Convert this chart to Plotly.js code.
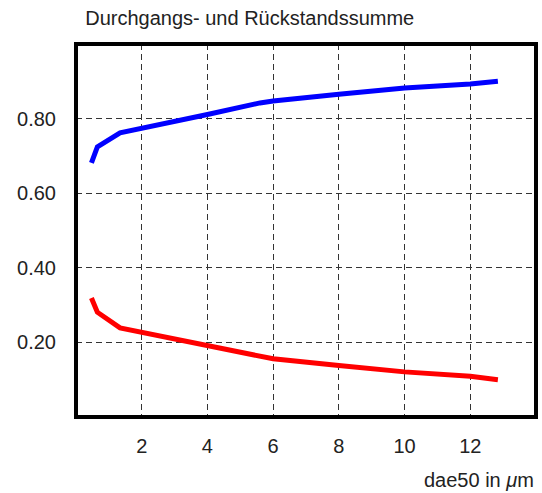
<!DOCTYPE html>
<html>
<head>
<meta charset="utf-8">
<script src="https://cdn.plot.ly/plotly-3.0.1.min.js"></script>
<style>html,body{margin:0;padding:0;background:#fff;}#chart{width:542px;height:493px;}</style>
</head>
<body>
<div id="chart"></div>
<script>
const dae50 = [0.47, 0.65, 1.34, 2, 4, 5.6, 6, 8, 10, 12, 12.84];
const durchgang = [0.681, 0.724, 0.762, 0.775, 0.811, 0.842, 0.847, 0.865, 0.882, 0.893, 0.900];
const rueckstand = [0.319, 0.281, 0.239, 0.227, 0.191, 0.161, 0.156, 0.138, 0.121, 0.109, 0.100];
const xTicks = [2, 4, 6, 8, 10, 12];
const yTicks = [0.2, 0.4, 0.6, 0.8];
const yTickText = ["0.20", "0.40", "0.60", "0.80"];
const titleText = "Durchgangs- und Rückstandssumme";
const xTitle = "dae50 in <i>μ</i>m";

const font = "Liberation Sans, Arial, Helvetica, sans-serif";
const fs = 20;
const traces = [
  {x: dae50, y: durchgang, mode: "lines", line: {color: "#0000ff", width: 5}, hoverinfo: "skip"},
  {x: dae50, y: rueckstand, mode: "lines", line: {color: "#ff0000", width: 5}, hoverinfo: "skip"}
];
const layout = {
  width: 542, height: 493,
  margin: {l: 76, r: 6, t: 44, b: 76},
  paper_bgcolor: "#fff", plot_bgcolor: "#fff",
  showlegend: false,
  font: {family: font, size: fs, color: "#222"},
  title: {text: titleText, x: 0.02, xref: "paper", xanchor: "left", y: 1 - 18/493, yref: "container", yanchor: "middle",
          font: {family: font, size: fs, color: "#222"}},
  xaxis: {range: [0, 14], tickvals: xTicks, showgrid: true, gridcolor: "#333", gridwidth: 1, griddash: "6px,4px",
          zeroline: false, showline: false, ticks: "", ticklabelstandoff: 15, tickfont: {size: fs, color: "#222"}},
  yaxis: {range: [0, 1], tickvals: yTicks, ticktext: yTickText, showgrid: true, gridcolor: "#333", gridwidth: 1, griddash: "6px,4px",
          zeroline: false, showline: false, ticks: "", ticklabelstandoff: 19, tickfont: {size: fs, color: "#222"}},
  shapes: [{type: "rect", xref: "paper", yref: "paper", x0: 0, x1: 1, y0: 0, y1: 1, line: {color: "#000", width: 4}, layer: "above"}],
  annotations: [{text: xTitle, xref: "paper", yref: "paper", x: 1, y: -63/373, xanchor: "right", yanchor: "middle", showarrow: false,
                 font: {family: font, size: fs, color: "#222"}}]
};
Plotly.newPlot("chart", traces, layout, {staticPlot: true, displayModeBar: false});
</script>
</body>
</html>
